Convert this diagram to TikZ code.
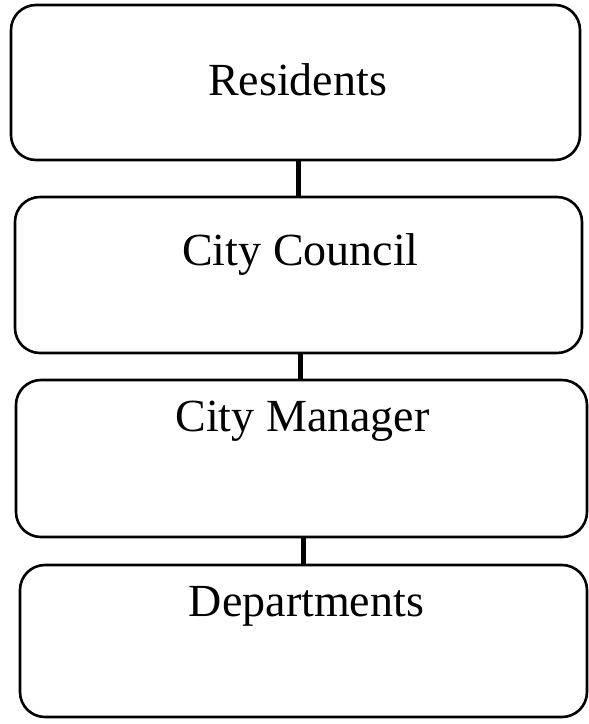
\documentclass[tikz,border=0pt]{standalone}
\usepackage{fontspec}
\setmainfont{Liberation Serif}
\begin{document}
\begin{tikzpicture}[x=1pt,y=-1pt,
  orgbox/.style={draw=black, line width=2.6pt, rounded corners=25pt,
    rectangle, inner sep=0pt},
  orglabel/.style={anchor=base, inner sep=0pt, font=\fontsize{46}{50}\selectfont},
  link/.style={draw=black, line width=5pt}]
  \useasboundingbox (0,0) rectangle (589,724);

  % boxes of the chain
  \node[orgbox, minimum width=569pt, minimum height=155pt] (b1) at (295.5,82.5) {};
  \node[orgbox, minimum width=567pt, minimum height=156pt] (b2) at (298.5,275) {};
  \node[orgbox, minimum width=571pt, minimum height=157pt] (b3) at (301.5,458.5) {};
  \node[orgbox, minimum width=567pt, minimum height=152pt] (b4) at (303.5,641) {};

  % titles, set near the top of each box
  \node[orglabel] (t1) at (297.5,95) {Residents};
  \node[orglabel] (t2) at (300.5,265) {City Council};
  \node[orglabel] (t3) at (302.5,431) {City Manager};
  \node[orglabel] (t4) at (306.5,616) {Departments};

  % connecting bars
  \draw[link] (b1.south -| b2.north) -- (b2.north);
  \draw[link] ([xshift=1.5pt]b2.south) -- ([xshift=1.5pt]b2.south |- b3.north);
  \draw[link] (b3.south -| b4.north) -- (b4.north);
\end{tikzpicture}
\end{document}
